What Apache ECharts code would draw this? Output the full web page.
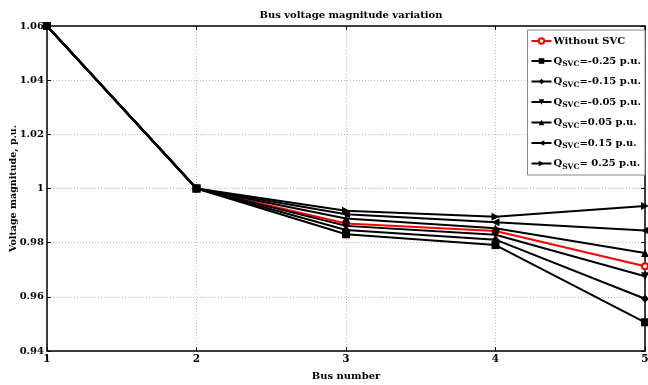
<!DOCTYPE html>
<html><head><meta charset="utf-8">
<script src="https://cdn.jsdelivr.net/npm/echarts@6/dist/echarts.min.js"></script>
<style>html,body{margin:0;padding:0;background:#fff}#c{width:648px;height:385px}</style>
</head><body><div id="c"></div>
<script>
const buses = [1, 2, 3, 4, 5];
const seriesNames = ['Without SVC', '-0.25', '-0.15', '-0.05', '0.05', '0.15', ' 0.25'];
const withoutSVC = [1.06, 1.0, 0.9871, 0.9843, 0.9713];
const qm025 = [1.06, 1.0, 0.9831, 0.9791, 0.9506];
const qm015 = [1.06, 1.0, 0.9847, 0.9811, 0.9593];
const qm005 = [1.06, 1.0, 0.9862, 0.9829, 0.9676];
const qp005 = [1.06, 1.0, 0.9889, 0.9853, 0.9762];
const qp015 = [1.06, 1.0, 0.9905, 0.9875, 0.9845];
const qp025 = [1.06, 1.0, 0.9918, 0.9896, 0.9935];
const yTicks = ['0.94', '0.96', '0.98', '1', '1.02', '1.04', '1.06'];

const font = 'DejaVu Serif';
const values = [withoutSVC, qm025, qm015, qm005, qp005, qp015, qp025];
const symbols = ['emptyCircle', 'rect', 'diamond', 'triangle', 'triangle', 'triangle', 'triangle'];
const rotates = [0, 0, 0, 180, 0, 90, -90];
const colors = ['#ff0000', '#000', '#000', '#000', '#000', '#000', '#000'];

const series = values.map((v, i) => ({
  name: i === 0 ? seriesNames[0] : 'Q' + i,
  type: 'line',
  data: buses.map((b, k) => [b, v[k]]),
  symbol: symbols[i],
  symbolRotate: rotates[i],
  symbolSize: i === 0 ? 6 : 8,
  showAllSymbol: true,
  clip: false,
  z: i === 0 ? 1 : 2,
  lineStyle: { color: colors[i], width: 2 },
  itemStyle: { color: colors[i], borderWidth: i === 0 ? 1.5 : 0 }
}));

const legendLabels = {};
legendLabels[seriesNames[0]] = seriesNames[0];
for (let i = 1; i < 7; i++) legendLabels['Q' + i] = 'Q{s|SVC}=' + seriesNames[i] + ' p.u.';

const chart = echarts.init(document.getElementById('c'), null, { renderer: 'canvas' });
chart.setOption({
  animation: false,
  backgroundColor: '#fff',
  title: {
    text: 'Bus voltage magnitude variation',
    left: 346, top: 5, textAlign: 'center',
    textStyle: { fontFamily: font, fontSize: 10, fontWeight: 'bold', color: '#000' }
  },
  grid: { left: 47, right: 3, top: 26, bottom: 34, containLabel: false, outerBoundsMode: 'none' },
  legend: {
    orient: 'vertical',
    right: 3, top: 30,
    backgroundColor: '#fff',
    borderColor: '#888', borderWidth: 1,
    padding: [4, 4, 4, 3],
    itemWidth: 20, itemHeight: 7, itemGap: 6,
    formatter: n => legendLabels[n],
    data: series.map(s => s.name),
    textStyle: {
      fontFamily: font, fontSize: 10, fontWeight: 'bold', color: '#000',
      lineHeight: 14, padding: [0, 0, 0, -3],
      rich: { s: { fontFamily: font, fontSize: 7.5, fontWeight: 'bold', color: '#000', padding: [7, 0, 0, 0] } }
    }
  },
  xAxis: [{
    type: 'value', min: 1, max: 5, interval: 1,
    name: 'Bus number', nameLocation: 'middle', nameGap: 20, nameMoveOverlap: false,
    nameTextStyle: { fontFamily: font, fontSize: 10, fontWeight: 'bold', color: '#000' },
    axisLine: { lineStyle: { color: '#000', width: 1.5 } },
    axisTick: { inside: true, length: 4, lineStyle: { color: '#000' } },
    axisLabel: { fontFamily: font, fontSize: 10.5, fontWeight: 'bold', color: '#000', margin: 3 },
    splitLine: { show: true, lineStyle: { color: '#bbb', type: [1, 2], width: 1 } }
  }, {
    type: 'value', min: 1, max: 5, interval: 1, position: 'top',
    axisLine: { show: true, lineStyle: { color: '#000', width: 1.5 } },
    axisTick: { inside: true, length: 4, lineStyle: { color: '#000' } },
    axisLabel: { show: false }, splitLine: { show: false }
  }],
  yAxis: [{
    type: 'value', min: 0.94, max: 1.06, interval: 0.02,
    name: 'Voltage magnitude, p.u.', nameLocation: 'middle', nameGap: 28, nameMoveOverlap: false,
    nameTextStyle: { fontFamily: font, fontSize: 9.5, fontWeight: 'bold', color: '#000' },
    axisLine: { show: true, lineStyle: { color: '#000', width: 1.5 } },
    axisTick: { inside: true, length: 4, lineStyle: { color: '#000' } },
    axisLabel: {
      fontFamily: font, fontSize: 10, fontWeight: 'bold', color: '#000', margin: 3,
      formatter: v => yTicks.find(t => Math.abs(parseFloat(t) - v) < 1e-6) || ''
    },
    splitLine: { show: true, lineStyle: { color: '#bbb', type: [1, 2], width: 1 } }
  }, {
    type: 'value', min: 0.94, max: 1.06, interval: 0.02, position: 'right',
    axisLine: { show: true, lineStyle: { color: '#000', width: 1.5 } },
    axisTick: { inside: true, length: 4, lineStyle: { color: '#000' } },
    axisLabel: { show: false }, splitLine: { show: false }
  }],
  series: series
});
</script></body></html>
